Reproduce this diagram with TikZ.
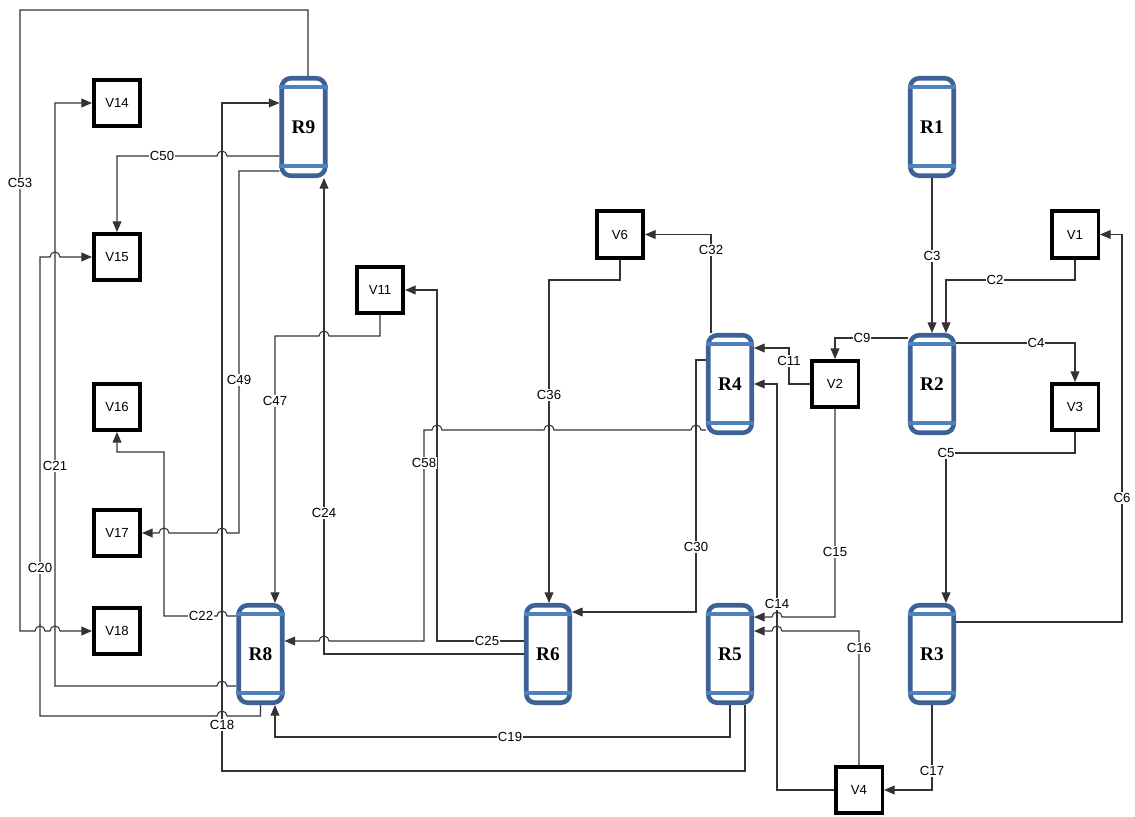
\documentclass[tikz,border=0pt]{standalone}
\usepackage{fontspec}
\setmainfont{Liberation Sans}
\newfontfamily\rfont{Liberation Serif}
\usepackage{xcolor}
\usepackage{tikz}
\usetikzlibrary{arrows.meta, positioning, calc, backgrounds}

\definecolor{rborder}{HTML}{3C6194}
\definecolor{rbar}{HTML}{4F81BD}

\begin{document}
\begin{tikzpicture}[x=0.02cm, y=-0.02cm,
  >={Triangle[length=6pt, width=5pt]},
  reactor/.style={draw=rborder, line width=2.6pt, rounded corners=0.18cm, fill=white,
    minimum width=0.87cm, minimum height=1.95cm, inner sep=0pt,
    font=\rfont\bfseries\fontsize{11}{12}\selectfont},
  vessel/.style={draw=black, line width=2pt, fill=white, minimum size=0.93cm,
    inner sep=0pt, font=\fontsize{7.5}{9}\selectfont},
  flow/.style={draw=black!80, line width=0.6pt},
  lab/.style={fill=white, inner sep=0.6pt, font=\fontsize{7.5}{9}\selectfont},
  rbarline/.style={draw=rbar, line width=2pt}]
  \useasboundingbox (0,0) rectangle (1135,817);

  % Reactors
  \node[reactor] (R9) at (303.5,127) {R9};
  \node[reactor] (R1) at (932,127) {R1};
  \node[reactor] (R4) at (730,384) {R4};
  \node[reactor] (R2) at (932,384) {R2};
  \node[reactor] (R8) at (260.5,654) {R8};
  \node[reactor] (R6) at (548,654) {R6};
  \node[reactor] (R5) at (730,654) {R5};
  \node[reactor] (R3) at (932,654) {R3};
  % tray bars near top and bottom
  \foreach \r in {R1,R2,R3,R4,R5,R6,R8,R9} {
    \draw[rbarline] ([yshift=-0.22cm]\r.north west) -- ([yshift=-0.22cm]\r.north east);
    \draw[rbarline] ([yshift=0.24cm]\r.south west) -- ([yshift=0.24cm]\r.south east);
  }

  % Vessels
  \node[vessel] (V14) at (117,103) {V14};
  \node[vessel] (V15) at (117,257) {V15};
  \node[vessel] (V16) at (117,407) {V16};
  \node[vessel] (V17) at (117,533) {V17};
  \node[vessel] (V18) at (117,631) {V18};
  \node[vessel] (V11) at (380,290) {V11};
  \node[vessel] (V6) at (620,234.5) {V6};
  \node[vessel] (V1) at (1075,234.5) {V1};
  \node[vessel] (V2) at (835,384) {V2};
  \node[vessel] (V3) at (1075,407) {V3};
  \node[vessel] (V4) at (859,790) {V4};

  \begin{scope}[on background layer]
  % Left side streams
  \draw[flow,->] (308,0 |- R9.north) -- (308,10) -- (20,10) -- (20,631)
    -- (35,631) arc[start angle=180, end angle=0, radius=0.1cm]
    -- (50,631) arc[start angle=180, end angle=0, radius=0.1cm] -- (V18.west);
  \draw[flow,->] (R9.west |- 0,156) -- (227,156) arc[start angle=0, end angle=180, radius=0.1cm]
    -- (117,156) -- (V15.north);
  \draw[flow,->] (745,0 |- R5.south) -- (745,771) -- (222,771) -- (222,103) -- (R9.west |- 0,103);
  \draw[flow,->] (R9.west |- 0,171) -- (239,171) -- (239,533)
    -- (227,533) arc[start angle=0, end angle=180, radius=0.1cm]
    -- (169,533) arc[start angle=0, end angle=180, radius=0.1cm] -- (V17.east);
  \draw[flow,->] (R8.west |- 0,616) -- (227,616) arc[start angle=0, end angle=180, radius=0.1cm]
    -- (164,616) -- (164,452) -- (117,452) -- (V16.south);
  \draw[flow,->] (R8.west |- 0,686) -- (227,686) arc[start angle=0, end angle=180, radius=0.1cm]
    -- (55,686) -- (55,103) -- (V14.west);
  \draw[flow,->] (R8.south) -- (260.5,716) -- (227,716) arc[start angle=0, end angle=180, radius=0.1cm]
    -- (40,716) -- (40,257) -- (50,257) arc[start angle=180, end angle=0, radius=0.1cm] -- (V15.west);
  \draw[flow,->] (R5.south) -- (730,737) -- (275,737) -- (275,0 |- R8.south);

  % Middle streams
  \draw[flow,->] (R6.west) -- (324,654) -- (324,0 |- R9.south);
  \draw[flow,->] (R6.west |- 0,641) -- (437,641) -- (437,290) -- (V11.east);
  \draw[flow,->] (R4.west |- 0,430) -- (701,430) arc[start angle=0, end angle=180, radius=0.1cm]
    -- (554,430) arc[start angle=0, end angle=180, radius=0.1cm]
    -- (442,430) arc[start angle=0, end angle=180, radius=0.1cm]
    -- (424,430) -- (424,641) -- (329,641) arc[start angle=0, end angle=180, radius=0.1cm]
    -- (R8.east |- 0,641);
  \draw[flow,->] (V11.south) -- (380,336) -- (329,336) arc[start angle=0, end angle=180, radius=0.1cm]
    -- (275,336) -- (275,0 |- R8.north);
  \draw[flow,->] (V6.south) -- (620,280) -- (549,280) -- (549,0 |- R6.north);
  \draw[flow,->] (711,0 |- R4.north) -- (711,234.5) -- (V6.east);
  \draw[flow,->] (R4.west |- 0,360) -- (696,360) -- (696,612) -- (R6.east |- 0,612);

  % Right side streams
  \draw[flow,->] (V2.west) -- (789,384) -- (789,348) -- (R4.east |- 0,348);
  \draw[flow,->] (V4.west) -- (777,790) -- (777,384) -- (R4.east);
  \draw[flow,->] (V2.south) -- (835,617) -- (782,617) arc[start angle=0, end angle=180, radius=0.1cm]
    -- (R5.east |- 0,617);
  \draw[flow,->] (V4.north) -- (859,631) -- (782,631) arc[start angle=0, end angle=180, radius=0.1cm]
    -- (R5.east |- 0,631);
  \draw[flow,->] (R3.south) -- (932,790) -- (V4.east);
  \draw[flow,->] (R3.east |- 0,622) -- (1122,622) -- (1122,234.5) -- (V1.east);
  \draw[flow,->] (V3.south) -- (1075,453) -- (946,453) -- (946,0 |- R3.north);
  \draw[flow,->] (R2.east |- 0,343) -- (1075,343) -- (V3.north);
  \draw[flow,->] (R2.west |- 0,338) -- (835,338) -- (V2.north);
  \draw[flow,->] (R1.south) -- (R2.north);
  \draw[flow,->] (V1.south) -- (1075,280) -- (946,280) -- (946,0 |- R2.north);
  \end{scope}

  % Stream labels
  \node[lab] (l53) at (20,183) {C53};
  \node[lab] (l50) at (162,156) {C50};
  \node[lab] (l18) at (222,725) {C18};
  \node[lab] (l49) at (239,380) {C49};
  \node[lab] (l22) at (201,616) {C22};
  \node[lab] (l21) at (55,466) {C21};
  \node[lab] (l20) at (40,568) {C20};
  \node[lab] (l19) at (510,737) {C19};
  \node[lab] (l24) at (324,513) {C24};
  \node[lab] (l25) at (487,641) {C25};
  \node[lab] (l58) at (424,463) {C58};
  \node[lab] (l47) at (275,401) {C47};
  \node[lab] (l36) at (549,395) {C36};
  \node[lab] (l32) at (711,250) {C32};
  \node[lab] (l30) at (696,547) {C30};
  \node[lab] (l11) at (789,361) {C11};
  \node[lab] (l14) at (777,604) {C14};
  \node[lab] (l15) at (835,552) {C15};
  \node[lab] (l16) at (859,648) {C16};
  \node[lab] (l17) at (932,771) {C17};
  \node[lab] (l6) at (1122,498) {C6};
  \node[lab] (l5) at (946,453) {C5};
  \node[lab] (l4) at (1036,343) {C4};
  \node[lab] (l9) at (862,338) {C9};
  \node[lab] (l3) at (932,256) {C3};
  \node[lab] (l2) at (995,280) {C2};
\end{tikzpicture}
\end{document}
